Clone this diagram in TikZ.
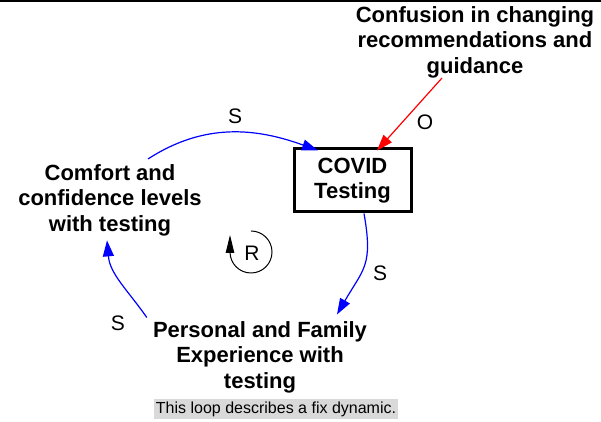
\documentclass[tikz,border=0pt]{standalone}
\usepackage{fontspec}
\setmainfont{Liberation Sans}
\usetikzlibrary{arrows.meta,positioning,calc}
\definecolor{linkblue}{RGB}{0,0,255}
\definecolor{linkred}{RGB}{255,0,0}
\definecolor{notegray}{RGB}{217,217,217}
\tikzset{
  var/.style={font=\bfseries\fontsize{22}{25.5}\selectfont,align=center,inner sep=0pt},
  stockbox/.style={var,draw,line width=3pt,minimum width=117pt,minimum height=63pt},
  flow/.style={-{Triangle[length=16pt,width=11pt]},line width=1.2pt,draw=linkblue},
  redflow/.style={flow,draw=linkred},
  pol/.style={font=\fontsize{21}{24}\selectfont,inner sep=0pt},
  loopar/.style={-{Triangle[length=18pt,width=8.5pt]},line width=1pt},
  note/.style={font=\fontsize{16}{19}\selectfont,fill=notegray,inner xsep=2pt,inner ysep=3pt}
}
\begin{document}
\begin{tikzpicture}[x=1pt,y=1pt]
  \useasboundingbox (0,0) rectangle (601,422);
  \draw[line width=2pt] (0,421) -- (601,421);
  \node[var] (confusion) at (475,380)
    {Confusion in changing\\recommendations and\\guidance};
  \node[stockbox] (covid) at (352.5,241.5) {COVID\\Testing};
  \node[var] (comfort) at (110,222)
    {Comfort and\\confidence levels\\with testing};
  \node[var] (experience) at (260,65)
    {Personal and Family\\Experience with\\testing};
  \node[pol] (loopR) at (252,169) {R};
  \node[note] (caption) at (276,13) {This loop describes a fix dynamic.};
  % links
  \draw[flow] ([xshift=38pt,yshift=5pt]comfort.north)
    to[out=33,in=160] ([xshift=-34.5pt,yshift=-3pt]covid.north);
  \draw[flow] ([xshift=11.5pt]covid.south)
    to[out=-80,in=60,looseness=1.3] ([xshift=77pt,yshift=6.5pt]experience.north);
  \draw[flow] ([xshift=-6pt,yshift=3.5pt]experience.north west)
    to[out=125,in=-85] ([xshift=-3pt,yshift=-4.4pt]comfort.south);
  \draw[redflow] ([xshift=-33pt]confusion.south)
    -- ([xshift=24.5pt,yshift=-3pt]covid.north);
  % polarity
  \node[pol] (s1) at (235,306) {S};
  \node[pol] (s2) at (380,149) {S};
  \node[pol] (s3) at (118,99) {S};
  \node[pol] (o1) at (425,300) {O};
  \draw[loopar] ([xshift=-1pt,yshift=22pt]loopR.center)
    arc[start angle=90,end angle=-180,radius=21] -- ++(0,17);
\end{tikzpicture}
\end{document}
